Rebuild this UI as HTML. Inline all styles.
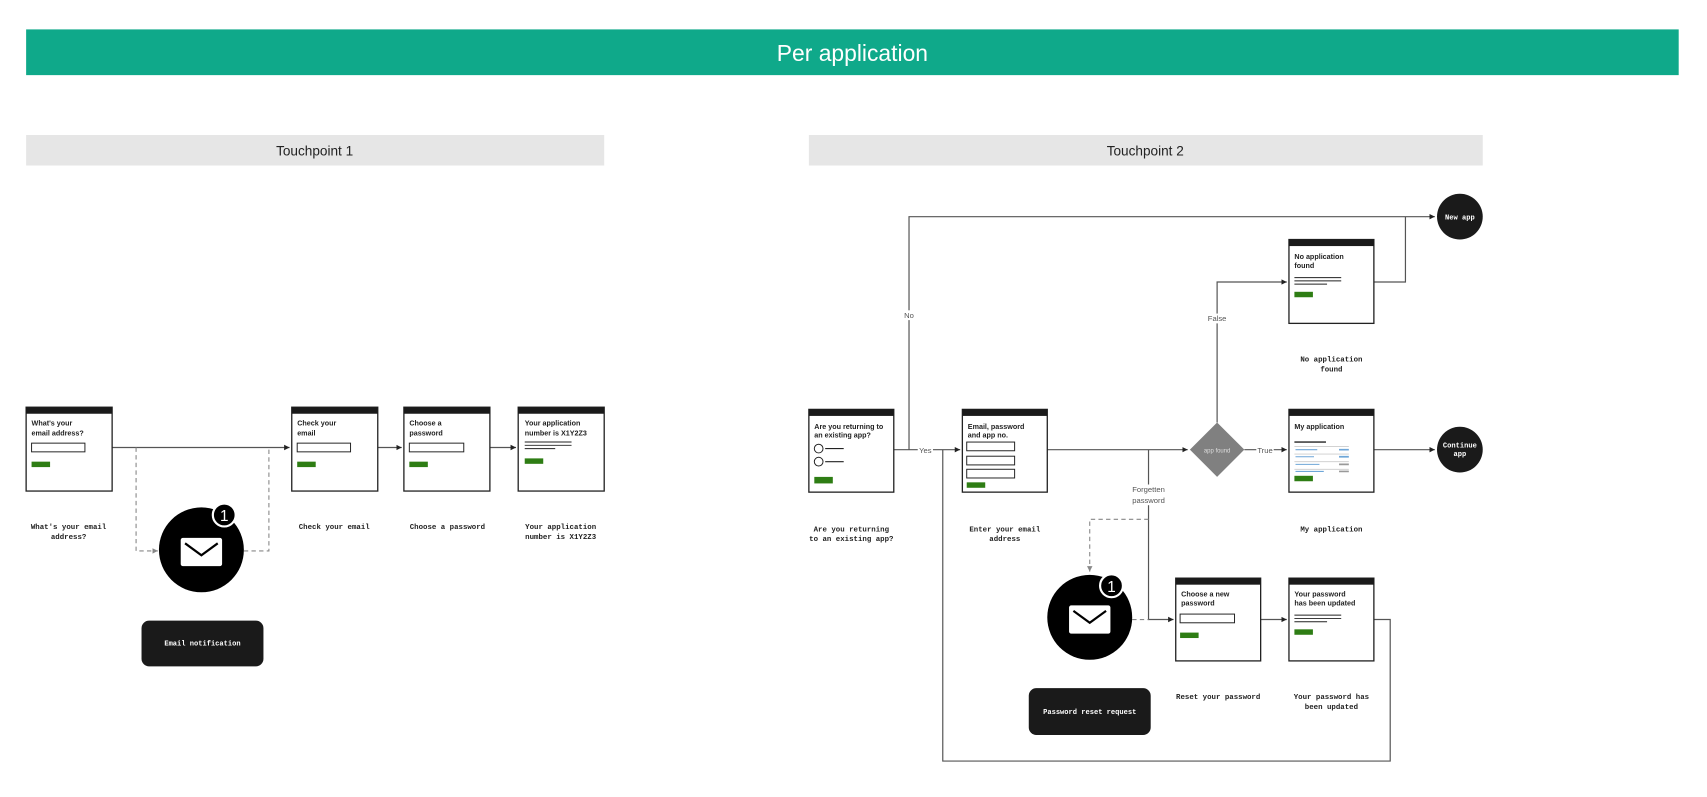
<!DOCTYPE html>
<html><head><meta charset="utf-8"><style>
html,body{margin:0;padding:0;background:#fff;width:1707px;height:797px;overflow:hidden}
svg{display:block}
.t{font-family:"Liberation Sans",sans-serif;font-weight:bold;font-size:6.6px;fill:#222}
.m{font-family:"Liberation Mono",monospace;font-weight:bold;font-size:6.8px;fill:#222;text-anchor:middle}
.w{font-family:"Liberation Mono",monospace;font-weight:bold;font-size:6.5px;fill:#fff;text-anchor:middle}
.l{font-family:"Liberation Sans",sans-serif;font-size:7px;fill:#555;text-anchor:middle}
.ln{stroke:#555;stroke-width:1.1;fill:none}
.ds{stroke:#888;stroke-width:1;fill:none;stroke-dasharray:4 3}
.card rect.b{fill:#fff;stroke:#222;stroke-width:1.2}
.in{fill:#fff;stroke:#222;stroke-width:0.9}
.btn{fill:#2e7d14}
</style></head><body>
<svg width="1707" height="797" viewBox="0 0 1568 732" preserveAspectRatio="none" xmlns="http://www.w3.org/2000/svg">
<defs>
<marker id="a" markerWidth="6" markerHeight="6" refX="5" refY="3" orient="auto" markerUnits="userSpaceOnUse"><path d="M0,0.5 L5,3 L0,5.5z" fill="#222"/></marker>
<marker id="ag" markerWidth="6" markerHeight="6" refX="5" refY="3" orient="auto" markerUnits="userSpaceOnUse"><path d="M0,0.5 L5,3 L0,5.5z" fill="#888"/></marker>
<g id="env"><rect x="-19" y="-13" width="38" height="26" rx="2" fill="#fff"/><path d="M-15,-8 L0,3 L15,-8" stroke="#000" stroke-width="2" fill="none"/></g>
</defs>
<rect x="24" y="27" width="1518" height="42" fill="#0fa98a"/>
<text x="783" y="56" text-anchor="middle" font-family="Liberation Sans,sans-serif" font-size="21" fill="#fff">Per application</text>
<rect x="24" y="124" width="531" height="28" fill="#e6e6e6"/>
<text x="289" y="143" text-anchor="middle" font-family="Liberation Sans,sans-serif" font-size="12.5" fill="#222">Touchpoint 1</text>
<rect x="743" y="124" width="619" height="28" fill="#e6e6e6"/>
<text x="1052" y="143" text-anchor="middle" font-family="Liberation Sans,sans-serif" font-size="12.5" fill="#222">Touchpoint 2</text>

<!-- TP1 connectors -->
<path class="ln" d="M103,411 H266" marker-end="url(#a)"/>
<path class="ln" d="M347,411 H369" marker-end="url(#a)"/>
<path class="ln" d="M450,411 H474" marker-end="url(#a)"/>
<path class="ds" d="M125,411 V506 H145" marker-end="url(#ag)"/>
<path class="ds" d="M224,506 H247 V411"/>

<!-- TP1 cards -->
<g class="card"><rect class="b" x="24" y="374" width="79" height="77"/><rect x="24" y="374" width="79" height="6" fill="#1a1a1a"/>
<text class="t" x="29" y="391">What's your</text><text class="t" x="29" y="400">email address?</text>
<rect class="in" x="29" y="407" width="49" height="8"/><rect class="btn" x="29" y="424" width="17" height="5"/></g>
<g class="card"><rect class="b" x="268" y="374" width="79" height="77"/><rect x="268" y="374" width="79" height="6" fill="#1a1a1a"/>
<text class="t" x="273" y="391">Check your</text><text class="t" x="273" y="400">email</text>
<rect class="in" x="273" y="407" width="49" height="8"/><rect class="btn" x="273" y="424" width="17" height="5"/></g>
<g class="card"><rect class="b" x="371" y="374" width="79" height="77"/><rect x="371" y="374" width="79" height="6" fill="#1a1a1a"/>
<text class="t" x="376" y="391">Choose a</text><text class="t" x="376" y="400">password</text>
<rect class="in" x="376" y="407" width="50" height="8"/><rect class="btn" x="376" y="424" width="17" height="5"/></g>
<g class="card"><rect class="b" x="476" y="374" width="79" height="77"/><rect x="476" y="374" width="79" height="6" fill="#1a1a1a"/>
<text class="t" x="482" y="391">Your application</text><text class="t" x="482" y="400">number is X1Y2Z3</text>
<path d="M482,406 H525 M482,409 H525 M482,412 H510" stroke="#222" stroke-width="0.9"/><rect class="btn" x="482" y="421" width="17" height="5"/></g>

<text class="m" x="63" y="486">What's your email</text><text class="m" x="63" y="495">address?</text>
<text class="m" x="307" y="486">Check your email</text>
<text class="m" x="411" y="486">Choose a password</text>
<text class="m" x="515" y="486">Your application</text><text class="m" x="515" y="495">number is X1Y2Z3</text>

<circle cx="185" cy="505" r="39" fill="#000"/><use href="#env" x="185" y="507"/>
<circle cx="206" cy="473" r="10.5" fill="#000" stroke="#fff" stroke-width="2"/>
<text x="206" y="478.5" text-anchor="middle" font-family="Liberation Sans,sans-serif" font-size="14" fill="#fff">1</text>
<rect x="130" y="570" width="112" height="42" rx="7" fill="#1a1a1a"/>
<text class="w" x="186" y="593">Email notification</text>

<!-- TP2 connectors -->
<path class="ln" d="M821,413 H843 M857,413 H882" marker-end="url(#a)"/>
<text class="l" x="850" y="416">Yes</text>
<path class="ln" d="M835,413 V199 H1318" marker-end="url(#a)"/>
<rect x="828" y="285" width="14" height="9" fill="#fff"/><text class="l" x="835" y="292">No</text>
<path class="ln" d="M962,413 H1091" marker-end="url(#a)"/>
<path class="ln" d="M1143,413 H1154 M1170,413 H1182" marker-end="url(#a)"/>
<text class="l" x="1162" y="416">True</text>
<path class="ln" d="M1262,413 H1318" marker-end="url(#a)"/>
<path class="ln" d="M1118,388 V259 H1182" marker-end="url(#a)"/>
<rect x="1108" y="288" width="20" height="9" fill="#fff"/><text class="l" x="1118" y="295">False</text>
<path class="ln" d="M1262,259 H1291 V199"/>
<path class="ln" d="M1055,413 V569 H1078" marker-end="url(#a)"/>
<rect x="1038" y="445" width="34" height="19" fill="#fff"/>
<text class="l" x="1055" y="452">Forgetten</text><text class="l" x="1055" y="462">password</text>
<path class="ds" d="M1055,477 H1001 V525" marker-end="url(#ag)"/>
<path class="ds" d="M1040,569 H1055"/>
<path class="ln" d="M1158,569 H1182" marker-end="url(#a)"/>
<path class="ln" d="M1262,569 H1277 V699 H866 V413"/>

<!-- TP2 cards -->
<g class="card"><rect class="b" x="743" y="376" width="78" height="76"/><rect x="743" y="376" width="78" height="6" fill="#1a1a1a"/>
<text class="t" x="748" y="394">Are you returning to</text><text class="t" x="748" y="402">an existing app?</text>
<circle cx="752" cy="412" r="4" fill="#fff" stroke="#222" stroke-width="0.9"/><path d="M758,412 H775" stroke="#222"/>
<circle cx="752" cy="424" r="4" fill="#fff" stroke="#222" stroke-width="0.9"/><path d="M758,424 H775" stroke="#222"/>
<rect class="btn" x="748" y="438" width="17" height="6"/></g>
<g class="card"><rect class="b" x="884" y="376" width="78" height="76"/><rect x="884" y="376" width="78" height="6" fill="#1a1a1a"/>
<text class="t" x="889" y="394">Email, password</text><text class="t" x="889" y="402">and app no.</text>
<rect class="in" x="888" y="406" width="44" height="8"/><rect class="in" x="888" y="419" width="44" height="8"/><rect class="in" x="888" y="431" width="44" height="8"/>
<rect class="btn" x="888" y="443" width="17" height="5"/></g>
<polygon points="1118,388 1143,413 1118,438 1093,413" fill="#808080"/>
<text x="1118" y="415.5" text-anchor="middle" font-family="Liberation Sans,sans-serif" font-size="5.5" fill="#ddd">app found</text>
<g class="card"><rect class="b" x="1184" y="376" width="78" height="76"/><rect x="1184" y="376" width="78" height="6" fill="#1a1a1a"/>
<text class="t" x="1189" y="394">My application</text>
<path d="M1189,406 H1218" stroke="#444" stroke-width="1.5"/>
<path d="M1189,410 H1239 M1189,417 H1239 M1189,424 H1239 M1189,431 H1239" stroke="#ccc" stroke-width="0.8"/>
<path d="M1190,413 H1210 M1190,419.5 H1207 M1190,426.5 H1212 M1190,433 H1216" stroke="#6ea6d8" stroke-width="1"/>
<path d="M1230,413 H1239 M1230,419.5 H1239" stroke="#6ea6d8" stroke-width="1.5"/>
<path d="M1230,426.5 H1239 M1230,433 H1239" stroke="#999" stroke-width="1.5"/>
<rect class="btn" x="1189" y="437" width="17" height="5"/></g>
<g class="card"><rect class="b" x="1184" y="220" width="78" height="77"/><rect x="1184" y="220" width="78" height="6" fill="#1a1a1a"/>
<text class="t" x="1189" y="238">No application</text><text class="t" x="1189" y="246">found</text>
<path d="M1189,255 H1232 M1189,258 H1232 M1189,261 H1219" stroke="#222" stroke-width="0.9"/><rect class="btn" x="1189" y="268" width="17" height="5"/></g>
<g class="card"><rect class="b" x="1080" y="531" width="78" height="76"/><rect x="1080" y="531" width="78" height="6" fill="#1a1a1a"/>
<text class="t" x="1085" y="548">Choose a new</text><text class="t" x="1085" y="556">password</text>
<rect class="in" x="1084" y="564" width="50" height="8"/><rect class="btn" x="1084" y="581" width="17" height="5"/></g>
<g class="card"><rect class="b" x="1184" y="531" width="78" height="76"/><rect x="1184" y="531" width="78" height="6" fill="#1a1a1a"/>
<text class="t" x="1189" y="548">Your password</text><text class="t" x="1189" y="556">has been updated</text>
<path d="M1189,565 H1232 M1189,568 H1232 M1189,571 H1219" stroke="#222" stroke-width="0.9"/><rect class="btn" x="1189" y="578" width="17" height="5"/></g>

<circle cx="1341" cy="199" r="21" fill="#1a1a1a"/><text class="w" x="1341" y="201.5" font-size="5.5">New app</text>
<circle cx="1341" cy="413" r="21" fill="#1a1a1a"/><text class="w" x="1341" y="411" font-size="5.5">Continue</text><text class="w" x="1341" y="419" font-size="5.5">app</text>

<text class="m" x="782" y="488">Are you returning</text><text class="m" x="782" y="497">to an existing app?</text>
<text class="m" x="923" y="488">Enter your email</text><text class="m" x="923" y="497">address</text>
<text class="m" x="1223" y="488">My application</text>
<text class="m" x="1223" y="332">No application</text><text class="m" x="1223" y="341">found</text>
<text class="m" x="1119" y="642">Reset your password</text>
<text class="m" x="1223" y="642">Your password has</text><text class="m" x="1223" y="651">been updated</text>

<circle cx="1001" cy="567" r="39" fill="#000"/><use href="#env" x="1001" y="569"/>
<circle cx="1021" cy="538" r="10.5" fill="#000" stroke="#fff" stroke-width="2"/>
<text x="1021" y="543.5" text-anchor="middle" font-family="Liberation Sans,sans-serif" font-size="14" fill="#fff">1</text>
<rect x="945" y="632" width="112" height="43" rx="7" fill="#1a1a1a"/>
<text class="w" x="1001" y="656">Password reset request</text>
</svg>
</body></html>
